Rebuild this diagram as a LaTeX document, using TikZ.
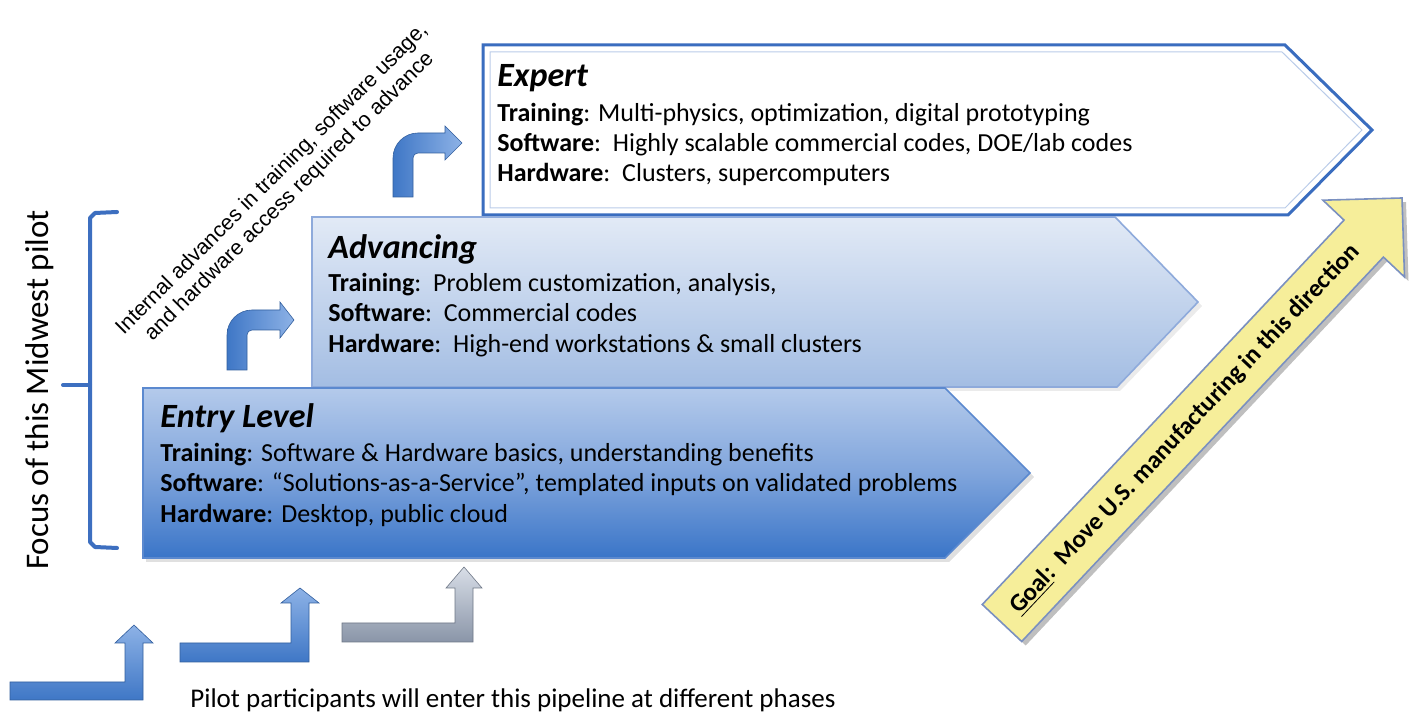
\documentclass[tikz,border=0pt]{standalone}
\usepackage{fontspec}
\setmainfont{Carlito}
\newfontfamily\arialfont{Liberation Sans}
\definecolor{bordblue}{HTML}{3A6DBF}
\definecolor{brblue}{HTML}{3D6FC0}
\definecolor{advtop}{HTML}{E2EAF6}
\definecolor{advbot}{HTML}{A3BDE3}
\definecolor{advedge}{HTML}{8EAADB}
\definecolor{enttop}{HTML}{B4CAEB}
\definecolor{entmid}{HTML}{80A5DC}
\definecolor{entbot}{HTML}{3A75C8}
\definecolor{entedge}{HTML}{5B89CF}
\definecolor{arrdark}{HTML}{3F77C6}
\definecolor{arrlight}{HTML}{8DB2E6}
\definecolor{grydark}{HTML}{8A95A8}
\definecolor{grylight}{HTML}{D8DEE7}
\definecolor{goalfill}{HTML}{F6EE9A}
\definecolor{goaledge}{HTML}{7A90C0}
\begin{document}
\begin{tikzpicture}[x=0.5pt,y=-0.5pt,
  body/.style={anchor=base west, inner sep=0pt, font=\fontsize{13}{15}\selectfont},
  ttl/.style={anchor=base west, inner sep=0pt, font=\fontsize{17}{20}\selectfont\bfseries\itshape},
  bluearr/.style={draw=arrdark!80!black, line width=0.3pt, left color=arrdark, right color=arrlight},
  lbluearr/.style={draw=arrdark!80!black, line width=0.3pt, top color=arrlight, bottom color=arrdark},
  grayarr/.style={draw=grydark!80!black, line width=0.3pt, top color=grylight, bottom color=grydark},
]
\useasboundingbox (0,0) rectangle (1409,715);
\fill[white] (0,0) rectangle (1409,715);

% Expert box
\draw[bordblue!35, line width=0.5pt]
  (490,52) -- (1282,52) -- (1362,130) -- (1285,208) -- (490,208) -- cycle;
\draw[bordblue, line width=1.5pt, line join=miter]
  (483,45) -- (1285,45) -- (1372,130) -- (1288,215) -- (483,215) -- cycle;
% Advancing box
\fill[black, opacity=0.08] (315,221) -- (1118,221) -- (1202,306) -- (1120,391) -- (315,391) -- cycle;
\draw[advedge, line width=0.8pt, top color=advtop, bottom color=advbot]
  (312,217) -- (1115,217) -- (1198,302) -- (1117,387) -- (312,387) -- cycle;
% Entry box
\fill[black, opacity=0.12] (146,392) -- (949,392) -- (1034,477) -- (949,562) -- (146,562) -- cycle;
\draw[entedge, line width=0.8pt, top color=enttop, bottom color=entbot, middle color=entmid]
  (143,388) -- (945,388) -- (1030,473) -- (945,558) -- (143,558) -- cycle;

% texts: Expert
\node[ttl]  (extitle) at (497,87) {Expert};
\node[body] (ex1) at (497,122) {\textbf{Training}: Multi-physics, optimization, digital prototyping};
\node[body] (ex2) at (497,152) {\textbf{Software}:\ \ Highly scalable commercial codes, DOE/lab codes};
\node[body] (ex3) at (497,182) {\textbf{Hardware}:\ \ Clusters, supercomputers};
% Advancing
\node[ttl]  (adtitle) at (328,259) {Advancing};
\node[body] (ad1) at (328,292) {\textbf{Training}:\ \ Problem customization, analysis,};
\node[body] (ad2) at (328,322) {\textbf{Software}:\ \ Commercial codes};
\node[body] (ad3) at (328,353) {\textbf{Hardware}:\ \ High-end workstations \& small clusters};
% Entry
\node[ttl]  (entitle) at (160,428) {Entry Level};
\node[body] (en1) at (160,462) {\textbf{Training}: Software \& Hardware basics, understanding benefits};
\node[body] (en2) at (160,492) {\textbf{Software}: “Solutions-as-a-Service”, templated inputs on validated problems};
\node[body] (en3) at (160,523) {\textbf{Hardware}: Desktop, public cloud};

% bracket
\draw[brblue, line width=2pt, line join=round, line cap=round]
  (117,212) -- (95,213) -- (90,218) -- (90,542) -- (95,547) -- (117,548);
\draw[brblue, line width=2pt, line cap=round] (90,385) -- (63,385);
\node[rotate=90, anchor=base, inner sep=0pt, font=\fontsize{16.5}{18}\selectfont] (focus) at (48,390) {Focus of this Midwest pilot};

% diagonal text
\node[rotate=45, align=center, inner sep=0pt, font=\arialfont\fontsize{10.7}{12.3}\selectfont] (internal) at (281,188)
  {Internal advances in training, software usage,\\ and hardware access required to advance};

% curved arrows
\draw[bluearr] (227,370) -- (227,335) .. controls (227,321.2) and (238.2,310) .. (252,310) -- (280,310) -- (280,302) -- (294,320) -- (280,338) -- (280,330) -- (252,330) .. controls (249.2,330) and (247,332.2) .. (247,335) -- (247,370) -- cycle;
\draw[bluearr] (393,197) -- (393,158) .. controls (393,144.2) and (404.2,133) .. (418,133) -- (445,133) -- (445,126) -- (462,143) -- (445,160) -- (445,153) -- (418,153) .. controls (415.2,153) and (413,155.2) .. (413,158) -- (413,197) -- cycle;

% bottom L arrows
\draw[lbluearr] (10,682) -- (125,682) -- (125,643) -- (115,643) -- (134,625) -- (153,643) -- (143,643) -- (143,700) -- (10,700) -- cycle;
\draw[lbluearr] (180,643) -- (291,643) -- (291,603) -- (281,603) -- (300,588) -- (319,603) -- (309,603) -- (309,662) -- (180,662) -- cycle;
\draw[grayarr] (342,623) -- (455,623) -- (455,588) -- (446,588) -- (464,567) -- (482,588) -- (473,588) -- (473,642) -- (342,642) -- cycle;

\node[anchor=base west, inner sep=0pt, font=\fontsize{13.5}{16}\selectfont] (pilot) at (190,708)
  {Pilot participants will enter this pipeline at different phases};

% yellow goal arrow
\fill[black, opacity=0.25] (986.3,608.5) -- (1348,224.1) -- (1326.9,204.2) -- (1406,202) -- (1408.5,281) -- (1387.4,261.1) -- (1025.7,645.5) -- cycle;
\draw[goaledge, line width=0.8pt, fill=goalfill, line join=miter]
  (982.3,604.5) -- (1344,220.1) -- (1322.9,200.2) -- (1402,198) -- (1404.5,277) -- (1383.4,257.1) -- (1021.7,641.5) -- cycle;
\node[rotate=46.7, inner sep=0pt, font=\fontsize{12.5}{14}\selectfont\bfseries] (goal) at (1185,429)
  {\underline{Goal}:\ \ Move U.S. manufacturing in this direction};
\end{tikzpicture}
\end{document}
